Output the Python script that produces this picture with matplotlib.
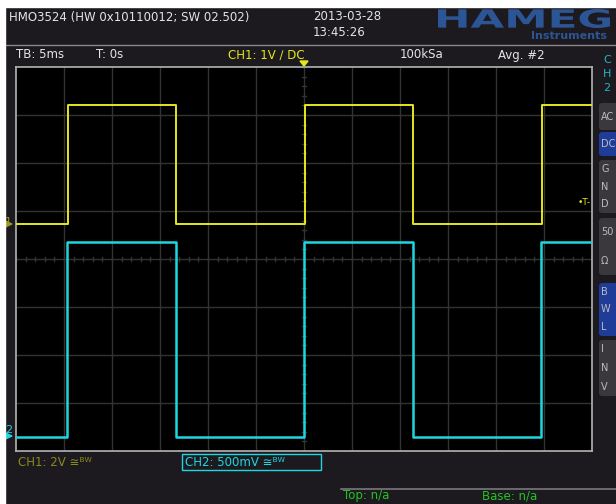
import numpy as np
import matplotlib
matplotlib.use("Agg")
import matplotlib.pyplot as plt
from matplotlib.patches import Rectangle, FancyBboxPatch, PathPatch, Polygon
from matplotlib.textpath import TextPath
from matplotlib.transforms import Affine2D
from matplotlib.font_manager import FontProperties

# scope settings
tb_ms_per_div = 5.0
ch1_volts_per_div = 2.0
ch2_volts_per_div = 0.5
ch1_offset_div = 0.73     # ground marker "1"
ch2_offset_div = -3.71    # ground marker "2"
trig_level_div = 1.17

# captured square waves (edge times in ms, levels in V)
ch1_edges_ms = [-24.6, -13.35, 0.1, 11.35, 24.8]
ch1_low, ch1_high = 0.0, 4.96
ch2_edges_ms = [-24.7, -13.35, 0.05, 11.35, 24.7]
ch2_low, ch2_high = 0.0, 2.03

W, H = 616, 504
BG = "#1c1a1e"
YEL = "#e6e61e"
CYAN = "#1ed6e0"
GRID = "#333333"

fig = plt.figure(figsize=(W / 100, H / 100), dpi=100)
fig.patch.set_facecolor(BG)

# overlay in pixel coords
deco = fig.add_axes([0, 0, 1, 1])
deco.set_xlim(0, W)
deco.set_ylim(H, 0)
deco.axis("off")
deco.add_patch(Rectangle((0, 0), W, 7, color="white", zorder=5))
deco.add_patch(Rectangle((0, 0), 5, H, color="white", zorder=5))
deco.plot([5, W], [44.5, 44.5], color="#8a888c", lw=1)
deco.plot([341, W], [488.5, 488.5], color="#7a787c", lw=1.2)

txt = dict(fontsize=8.5, va="center", ha="left", color="#e4e4e4")
deco.text(9, 17, "HMO3524 (HW 0x10110012; SW 02.502)", **txt)
deco.text(313, 16, "2013-03-28", **txt)
deco.text(313, 32, "13:45:26", **txt)
deco.text(16, 55, "TB: 5ms", **txt)
deco.text(96, 55, "T: 0s", **txt)
deco.text(228, 55, "CH1: 1V \u2215 DC", **dict(txt, color=YEL))
deco.text(400, 55, "100kSa", **txt)
deco.text(498, 55, "Avg. #2", **txt)
deco.add_patch(Polygon([[300, 61], [308, 61], [304, 66]], color=YEL))

# HAMEG logo
fp = FontProperties(family="DejaVu Sans", weight="bold")
logo = TextPath((0, 0), "HAMEG", size=20, prop=fp)
bb = logo.get_extents()
sx = 172 / bb.width
sy = 19 / bb.height
tr = Affine2D().translate(-bb.x0, -bb.y0).scale(sx, -sy).translate(438, 28)
deco.add_patch(PathPatch(tr.transform_path(logo), color="#2c5596", lw=0))
deco.text(607, 36, "Instruments", fontsize=8, fontweight="bold", color="#2c5596",
          ha="right", va="center")

# left ground markers
deco.text(5, 222, "1", fontsize=8, color="#9a9a20", va="center")
deco.annotate("", xy=(16, 224), xytext=(6, 224),
              arrowprops=dict(arrowstyle="-|>", color="#9a9a20", lw=1))
deco.text(5, 430, "2", fontsize=8, color=CYAN, va="center")
deco.annotate("", xy=(16, 436), xytext=(6, 436),
              arrowprops=dict(arrowstyle="-|>", color=CYAN, lw=1))

# bottom labels
deco.text(18, 462, "CH1: 2V \u2245\u1d2e\u1d42", fontsize=8.5, color="#8a8a1e", va="center")
deco.add_patch(Rectangle((182, 453.5), 139, 16, fill=False, ec=CYAN, lw=1))
deco.text(185, 462, "CH2: 500mV \u2245\u1d2e\u1d42", fontsize=8.5, color=CYAN, va="center")
deco.text(343, 496, "Top: n/a", fontsize=8.5, color="#22c422", va="center")
deco.text(482, 496, "Base: n/a", fontsize=8.5, color="#22c422", va="center")

# right side channel menu
deco.text(603, 60, "C", fontsize=8, color="#1cb8c4", va="center")
deco.text(603, 74, "H", fontsize=8, color="#1cb8c4", va="center")
deco.text(603, 88, "2", fontsize=8, color="#1cb8c4", va="center")
buttons = [(103, 130, "#3a383c", ["AC"]), (132, 156, "#1e3c98", ["DC"]),
           (160, 213, "#3a383c", ["G", "N", "D"]), (218, 275, "#3a383c", ["50", "\u03a9"]),
           (283, 336, "#1e3c98", ["B", "W", "L"]), (340, 396, "#3a383c", ["I", "N", "V"])]
for y0, y1, col, labels in buttons:
    deco.add_patch(FancyBboxPatch((599, y0), 30, y1 - y0, boxstyle="round,pad=0,rounding_size=3",
                                  fc=col, ec="none"))
    step = (y1 - y0) / len(labels)
    for i, lab in enumerate(labels):
        deco.text(601, y0 + step * (i + 0.5), lab, fontsize=7, color="#bcbcbc", va="center")

# scope screen
ax = fig.add_axes([16 / W, (H - 451) / H, 576 / W, 384 / H])
ax.set_facecolor("black")
ax.set_xlim(-6, 6)
ax.set_ylim(-4, 4)
ax.set_xticks([])
ax.set_yticks([])
for s in ax.spines.values():
    s.set_color("#b4b4b4")
    s.set_linewidth(1.2)
for gx in range(-5, 6):
    ax.axvline(gx, color=GRID, lw=1)
for gy in range(-3, 4):
    ax.axhline(gy, color=GRID, lw=1)
minor_x = np.arange(-6, 6.01, 0.2)
minor_y = np.arange(-4, 4.01, 0.2)
ax.plot(np.repeat(minor_x, 2).reshape(-1, 2).T, np.tile([-0.05, 0.05], (len(minor_x), 1)).T,
        color=GRID, lw=1)
ax.plot(np.tile([-0.05, 0.05], (len(minor_y), 1)).T, np.repeat(minor_y, 2).reshape(-1, 2).T,
        color=GRID, lw=1)


def square(edges, low, high, t0=-30.0, t1=30.0):
    t = [t0]
    v = [low]
    level = low
    for e in edges:
        t += [e, e]
        v += [level, high if level == low else low]
        level = v[-1]
    t.append(t1)
    v.append(level)
    return np.array(t), np.array(v)


t1, v1 = square(ch1_edges_ms, ch1_low, ch1_high)
t2, v2 = square(ch2_edges_ms, ch2_low, ch2_high)
ax.plot(t1 / tb_ms_per_div, v1 / ch1_volts_per_div + ch1_offset_div, color=YEL, lw=1.4, zorder=4)
ax.plot(t2 / tb_ms_per_div, v2 / ch2_volts_per_div + ch2_offset_div, color=CYAN, lw=1.8, zorder=3)

deco.text(578, trig_level_div * -48 + 259, "\u2022T-", fontsize=6.5, color=YEL, va="center")
deco.set_zorder(ax.get_zorder() + 1)
deco.patch.set_visible(False)

fig.savefig("out.png", dpi=100, facecolor=BG)
